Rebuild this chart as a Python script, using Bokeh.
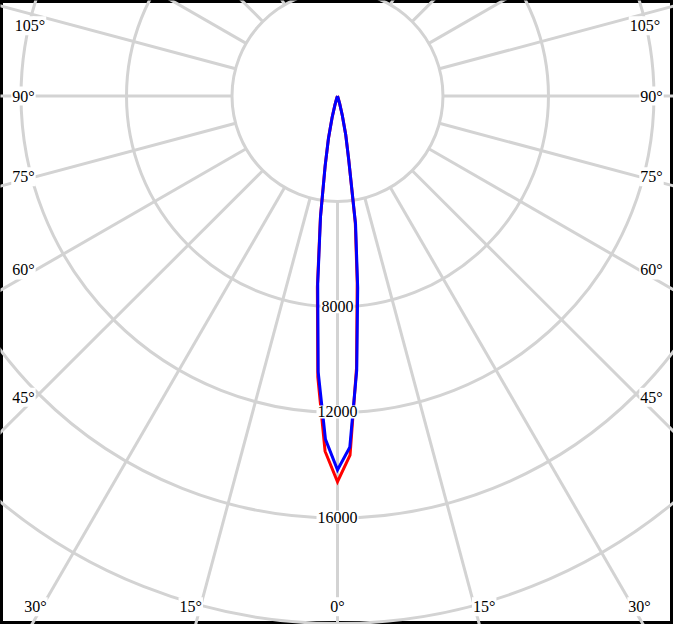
import numpy as np
from bokeh.plotting import figure
from bokeh.models import Range1d
from bokeh.core.properties import value
from bokeh.embed import file_html
from bokeh.resources import INLINE

# ---------------- data ----------------
angles = [0, 2, 4, 6, 8, 10, 12, 14, 16, 18, 20]          # degrees from nadir
red_left = [14650, 13500, 10700, 7300, 4650, 2700, 1650, 850, 350, 100, 0]
red_right = [14650, 13650, 10350, 7150, 4850, 2450, 1500, 750, 300, 100, 0]
blue_left = [14200, 13050, 10500, 7170, 4620, 2700, 1650, 850, 350, 100, 0]
blue_right = [14200, 13350, 10450, 7330, 4925, 2450, 1500, 750, 300, 100, 0]

ring_values = [4000, 8000, 12000, 16000, 20000, 24000]
ring_label_values = [8000, 12000, 16000]
ray_angles = list(range(0, 181, 15))
angle_label_values = [0, 15, 30, 45, 60, 75, 90, 105]

# ---------------- geometry ----------------
W, H = 673, 624
K = 0.027                 # reference pixels per cd
CX, CY = 345, 98          # pole position in the 689x640 reference frame
REF_W, REF_H = 689, 640

p = figure(width=W, height=H, output_backend="svg", toolbar_location=None,
           x_axis_type=None, y_axis_type=None, min_border=0,
           x_range=Range1d(-CX / K, (REF_W - CX) / K),
           y_range=Range1d(-(REF_H - CY) / K, CY / K))
p.grid.visible = False
p.background_fill_color = "white"
p.border_fill_color = "white"
p.outline_line_color = "black"
p.outline_line_width = 5

GRID = "#d3d3d3"
FONT = value("Liberation Serif")
FSIZE = value("16px")

# rings
p.circle(x=[0] * len(ring_values), y=[0] * len(ring_values), radius=ring_values,
         fill_color=None, line_color=GRID, line_width=3)

# rays (both halves), starting at the first ring
ra = np.radians(ray_angles)
r0, r1 = ring_values[0], 60000
for side in (-1, 1):
    p.segment(x0=side * r0 * np.sin(ra), y0=-r0 * np.cos(ra),
              x1=side * r1 * np.sin(ra), y1=-r1 * np.cos(ra),
              line_color=GRID, line_width=3)

# intensity curves
def curve(left, right):
    th = np.radians(angles)
    l = np.array(left, float)
    r = np.array(right, float)
    xs = np.concatenate([(-l * np.sin(th))[::-1], (r * np.sin(th))[1:]])
    ys = np.concatenate([(-l * np.cos(th))[::-1], (-r * np.cos(th))[1:]])
    return xs, ys

for left, right, col in ((red_left, red_right, "#ff0000"),
                         (blue_left, blue_right, "#0000ff")):
    xs, ys = curve(left, right)
    p.line(xs, ys, line_color=col, line_width=3, line_join="miter")

# radial value labels on the 0-degree ray (on top of the curves)
p.text(x=[0] * len(ring_label_values), y=[-v for v in ring_label_values],
       text=[str(v) for v in ring_label_values],
       text_align="center", text_baseline="middle",
       text_font=FONT, text_font_size=FSIZE, text_color="black",
       background_fill_color="white", padding=1)

# angle labels placed where the rays meet an inset rectangle
XI = 309 / K
YB = (612 - CY) / K
YTOP = (CY - 26) / K
groups = {}
for a in angle_label_values:
    t = np.radians(a)
    for side in ((0,) if a == 0 else (-1, 1)):
        s, c = np.sin(t), np.cos(t)
        t_side = XI / s if s > 1e-9 else np.inf
        t_bot = YB / c if c > 1e-9 else np.inf
        if t_bot <= t_side:
            x, y = side * t_bot * s, -YB
            align = "center" if side == 0 else ("right" if side < 0 else "left")
            base = "top"
        else:
            y_ray = -t_side * c
            y = min(y_ray, YTOP)
            shift = y_ray - y            # pushed down from the top edge -> move inward too
            x = side * (XI - shift)
            align = "right" if side < 0 else "left"
            base = "middle"
        groups.setdefault((align, base), ([], [], []))
        gx, gy, gt = groups[(align, base)]
        gx.append(x); gy.append(y); gt.append(f"{a}°")

for (align, base), (gx, gy, gt) in groups.items():
    p.text(x=gx, y=gy, text=gt, text_align=align, text_baseline=base,
           text_font=FONT, text_font_size=FSIZE, text_color="black",
           background_fill_color="white", padding=1)

open("out.html", "w").write(file_html(p, INLINE))
